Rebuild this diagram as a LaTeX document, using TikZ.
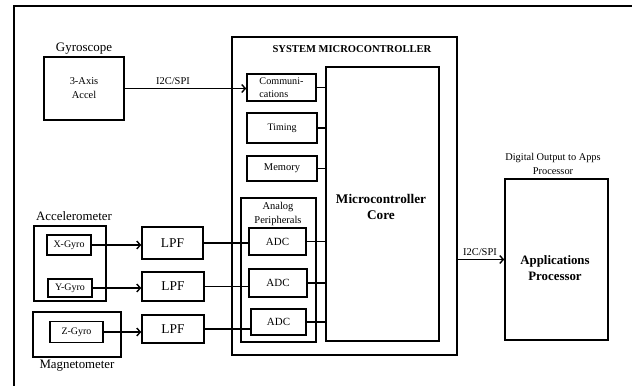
\documentclass[tikz,border=0pt]{standalone}
\usepackage{fontspec}
\setmainfont{Liberation Serif}
\usetikzlibrary{arrows.meta}
\tikzset{
  blk/.style={draw, line width=1.6bp, inner sep=0pt, align=center},
  txt/.style={inner sep=0pt, align=center},
  wire/.style={line width=1.6bp},
  arr/.style={line width=1.6bp, -{Straight Barb[length=3.5bp,width=8bp,line width=1.4bp]}},
  fs/.style 2 args={font=\fontsize{#1}{#2}\selectfont},
}
\begin{document}
\begin{tikzpicture}[x=1bp,y=-1bp]
\useasboundingbox (0,0) rectangle (632,385);
\fill[white] (0,0) rectangle (632,385);
% outer frame (cropped)
\draw[line width=2.4bp] (14,400) -- (14,6) -- (650,6);

% Gyroscope
\node[txt,fs={13}{15}] (gyrolbl) at (84,49) {Gyroscope};
\node[blk,fs={10.5}{14},minimum width=80bp,minimum height=63bp] (gyro) at (84,88.5) {3-Axis\\Accel};
\node[txt,fs={10.5}{12}] (i2c1) at (173,81) {I2C/SPI};

% System microcontroller
\node[blk,minimum width=225bp,minimum height=318bp] (sys) at (344.5,196) {};
\node[txt,fs={10.6}{12}] (syslbl) at (352,49) {\textbf{SYSTEM MICROCONTROLLER}};
\node[blk,fs={10.2}{13},minimum width=69bp,minimum height=27bp,align=left] (comm) at (281.5,87.5) {Communi-\\cations};
\node[blk,fs={10}{12},minimum width=70bp,minimum height=30bp] (timing) at (282,128) {Timing};
\node[blk,fs={10.5}{12},minimum width=70bp,minimum height=25bp] (memory) at (282,168.5) {Memory};
\node[blk,minimum width=75bp,minimum height=144bp] (analog) at (278.5,270) {};
\node[txt,fs={10.5}{14}] (analoglbl) at (278,214) {Analog\\Peripherals};
\node[blk,minimum width=113bp,minimum height=274bp] (core) at (382.5,204) {};
\node[txt,fs={13.3}{16}] (corelbl) at (381,207) {\textbf{Microcontroller}\\\textbf{Core}};
\node[blk,fs={11}{13},minimum width=57bp,minimum height=27bp] (adc1) at (277.5,241.5) {ADC};
\node[blk,fs={11}{13},minimum width=58bp,minimum height=28bp] (adc2) at (278,283) {ADC};
\node[blk,fs={11}{13},minimum width=55bp,minimum height=26bp] (adc3) at (278.5,322) {ADC};

% LPFs
\node[blk,fs={13.5}{15},minimum width=61bp,minimum height=32bp] (lpf1) at (172.5,243) {LPF};
\node[blk,fs={13.5}{15},minimum width=62bp,minimum height=29bp] (lpf2) at (173,286.5) {LPF};
\node[blk,fs={13.5}{15},minimum width=62bp,minimum height=28bp] (lpf3) at (173,329) {LPF};

% Accelerometer / Magnetometer
\node[txt,fs={12.9}{15}] (accellbl) at (74,216) {Accelerometer};
\node[blk,minimum width=72bp,minimum height=75bp] (accel) at (70,263.5) {};
\node[blk,fs={10}{12},minimum width=44bp,minimum height=20bp] (xg) at (69,245) {X-Gyro};
\node[blk,fs={10}{12},minimum width=44bp,minimum height=18bp] (yg) at (70,288) {Y-Gyro};
\node[blk,minimum width=88bp,minimum height=45bp] (mag) at (77,334.5) {};
\node[blk,fs={10}{12},minimum width=53bp,minimum height=21bp] (zg) at (76.5,332) {Z-Gyro};
\node[txt,fs={12.9}{15}] (maglbl) at (77,366) {Magnetometer};

% Applications processor
\node[txt,fs={10.4}{14}] (appslbl) at (553,164) {Digital Output to Apps\\Processor};
\node[blk,minimum width=103bp,minimum height=161bp] (apps) at (556.5,259.5) {};
\node[txt,fs={12.9}{16}] (appstxt) at (555,268) {\textbf{Applications}\\\textbf{Processor}};
\node[txt,fs={10.5}{12}] (i2c2) at (480,252) {I2C/SPI};

% connectors
\draw[arr] (gyro.east) -- (gyro.east -| comm.west);
\draw[wire] (comm.east) -- (comm.east -| core.west);
\draw[wire] (timing.east) -- (timing.east -| core.west);
\draw[wire] (memory.east) -- (memory.east -| core.west);
\draw[arr] (xg.east) -- (xg.east -| lpf1.west);
\draw[arr] (yg.east) -- (yg.east -| lpf2.west);
\draw[arr] (zg.east) -- (zg.east -| lpf3.west);
\draw[wire] (lpf1.east) -- (lpf1.east -| adc1.west);
\draw[wire] (lpf2.east) -- (lpf2.east -| adc2.west);
\draw[wire] (lpf3.east) -- (lpf3.east -| adc3.west);
\draw[wire] (adc1.east) -- (adc1.east -| core.west);
\draw[wire] (adc2.east) -- (adc2.east -| core.west);
\draw[wire] (adc3.east) -- (adc3.east -| core.west);
\draw[arr] (apps.west -| sys.east) -- (apps.west);
\end{tikzpicture}
\end{document}
